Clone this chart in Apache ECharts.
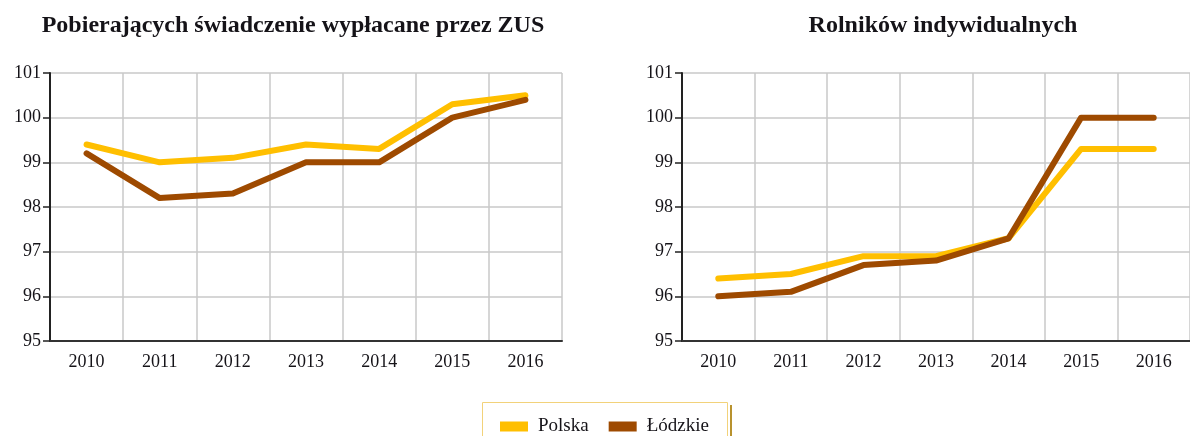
<!DOCTYPE html>
<html>
<head>
<meta charset="utf-8">
<script src="https://cdn.jsdelivr.net/npm/echarts@6/dist/echarts.min.js"></script>
<style>
html,body{margin:0;padding:0;background:#fff;}
#c{width:1190px;height:436px;}
</style>
</head>
<body>
<div id="c"></div>
<script>
const years = ['2010','2011','2012','2013','2014','2015','2016'];
const yTicks = [95, 96, 97, 98, 99, 100, 101];
const titleLeft = 'Pobierających świadczenie wypłacane przez ZUS';
const titleRight = 'Rolników indywidualnych';
const seriesNames = ['Polska', 'Łódzkie'];
const zusPolska = [99.4, 99.0, 99.1, 99.4, 99.3, 100.3, 100.5];
const zusLodzkie = [99.2, 98.2, 98.3, 99.0, 99.0, 100.0, 100.4];
const rolPolska = [96.4, 96.5, 96.9, 96.9, 97.3, 99.3, 99.3];
const rolLodzkie = [96.0, 96.1, 96.7, 96.8, 97.3, 100.0, 100.0];

const FONT = 'Liberation Serif';
const TXT = '#151318';
const colors = ['#ffbf00', '#9e4a00'];

function xAxis(gi) {
  return {
    type: 'category', gridIndex: gi, data: years, boundaryGap: true,
    axisLine: {lineStyle: {color: '#333', width: 2}},
    axisTick: {show: false},
    axisLabel: {fontFamily: FONT, fontSize: 18, color: TXT, margin: 12},
    splitLine: {show: true, lineStyle: {color: '#c8c8c8', width: 1.5}}
  };
}
function yAxis(gi) {
  return {
    type: 'value', gridIndex: gi, min: yTicks[0], max: yTicks[yTicks.length-1], interval: 1,
    axisLine: {show: true, lineStyle: {color: '#222', width: 2}},
    axisTick: {show: true, length: 7, lineStyle: {color: '#222', width: 1.5}},
    axisLabel: {fontFamily: FONT, fontSize: 18, color: TXT, margin: 9},
    splitLine: {show: true, lineStyle: {color: '#c8c8c8', width: 1.5}}
  };
}
function line(name, data, gi, ci) {
  return {
    name: name, type: 'line', xAxisIndex: gi, yAxisIndex: gi, data: data,
    symbol: 'none', smooth: false,
    lineStyle: {color: colors[ci], width: 6, cap: 'round', join: 'round'},
    itemStyle: {color: colors[ci]}
  };
}

const chart = echarts.init(document.getElementById('c'), null, {renderer: 'canvas'});
chart.setOption({
  backgroundColor: '#fff',
  animation: false,
  title: [
    {text: titleLeft, left: 288, top: 9, textAlign: 'center',
     textStyle: {fontFamily: FONT, fontSize: 24, fontWeight: 'bold', color: TXT}},
    {text: titleRight, left: 938, top: 9, textAlign: 'center',
     textStyle: {fontFamily: FONT, fontSize: 24, fontWeight: 'bold', color: TXT}}
  ],
  grid: [
    {left: 50, top: 73, width: 512, height: 268},
    {left: 682, top: 73, width: 513, height: 268}
  ],
  xAxis: [xAxis(0), xAxis(1)],
  yAxis: [yAxis(0), yAxis(1)],
  legend: {
    data: seriesNames, left: 495, top: 412, itemWidth: 28, itemHeight: 10, itemGap: 20,
    icon: 'rect',
    textStyle: {fontFamily: FONT, fontSize: 19, color: TXT, padding: [0,0,0,5]}
  },
  graphic: [
    {type: 'rect', shape: {x: 482.5, y: 402.5, width: 245, height: 60},
     style: {fill: 'none', stroke: '#f2d27a', lineWidth: 1}, silent: true},
    {type: 'line', shape: {x1: 731, y1: 405, x2: 731, y2: 436},
     style: {stroke: '#b8922e', lineWidth: 2}, silent: true}
  ],
  series: [
    line(seriesNames[0], zusPolska, 0, 0),
    line(seriesNames[1], zusLodzkie, 0, 1),
    line(seriesNames[0], rolPolska, 1, 0),
    line(seriesNames[1], rolLodzkie, 1, 1)
  ]
});
</script>
</body>
</html>
